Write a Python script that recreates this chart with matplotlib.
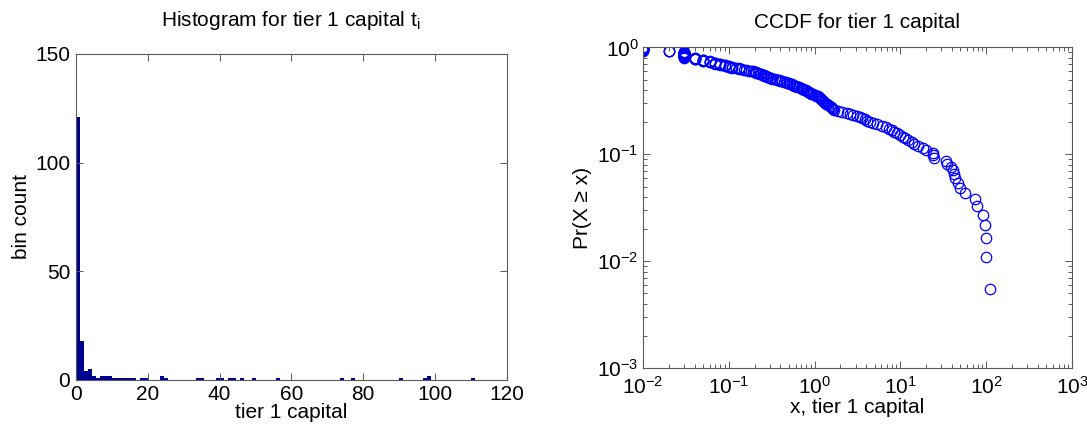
import numpy as np
import matplotlib
matplotlib.use('Agg')
import matplotlib.pyplot as plt

plt.rcParams['font.family'] = ['Liberation Sans', 'DejaVu Sans']
plt.rcParams['mathtext.default'] = 'regular'
plt.rcParams['font.size'] = 14

# tier 1 capital per bank; many small banks sit at the 0.01 rounding floor
small_banks = ([0.01] * 13 + [0.02] * 3 + [0.03] * 21 + [0.04] * 5 + [0.05] * 5 +
               [0.06] * 4 + [0.07] * 4 + [0.08] * 3 + [0.09] * 3 + [0.10] * 3 + [0.11] * 2 +
               [0.12, 0.13, 0.13, 0.14, 0.15, 0.16, 0.17, 0.18, 0.19,
                0.20, 0.21, 0.21, 0.22, 0.23, 0.23, 0.24, 0.25, 0.26, 0.26, 0.27, 0.28, 0.29,
                0.30, 0.31, 0.32, 0.35, 0.36, 0.38, 0.40, 0.42, 0.44,
                0.46, 0.48, 0.50, 0.52, 0.54, 0.56, 0.58, 0.61, 0.63, 0.66, 0.69,
                0.71, 0.74, 0.76, 0.79, 0.82, 0.84, 0.87, 0.89,
                0.92, 0.96, 1.00, 1.04, 1.09])
mid_banks = [1.13, 1.15, 1.18, 1.20, 1.22, 1.25, 1.28, 1.32, 1.35, 1.40, 1.45, 1.50,
             1.55, 1.60, 1.63, 1.7, 1.9, 2.1, 2.4, 2.6, 2.8, 3.1,
             3.4, 3.6, 3.9, 4.1, 4.4, 4.8, 5.4, 6.1, 6.8, 7.3, 7.9, 8.4, 9.1, 9.8,
             10.6, 11.4, 12.4, 13.5, 14.6]
big_banks = [15.9, 18.3, 19.8, 24.1, 24.3, 24.6, 34.4, 35.2, 39.2, 41.0, 42.4, 43.8,
             46.4, 49.3, 56.3, 74.3, 77.1, 90.7, 97.4, 98.2, 98.9, 111.2]

tier1 = np.array(small_banks + mid_banks + big_banks)
n = len(tier1)

# empirical CCDF: Pr(X >= x) for each sorted sample
xs = np.sort(tier1)
pr = np.arange(n, 0, -1) / n

fig = plt.figure(figsize=(10.87, 4.24), dpi=100)
axis_grey = '0.35'

def matlab_box(ax):
    for s in ax.spines.values():
        s.set_color(axis_grey)
        s.set_linewidth(0.8)
    ax.tick_params(which='both', direction='in', top=True, right=True,
                   color=axis_grey, width=0.7, pad=3, labelsize=15)
    ax.tick_params(which='major', length=5)
    ax.tick_params(which='minor', length=3)

# histogram (empty bins stay invisible)
ax1 = fig.add_axes([0.0697, 0.104, 0.3967, 0.769])
ax1.hist(tier1, bins=100, color='#00008F', linewidth=0)
ax1.set_xlim(0, 120)
ax1.set_ylim(0, 150)
ax1.set_xticks(range(0, 121, 20))
ax1.set_yticks([0, 50, 100, 150])
matlab_box(ax1)
ax1.tick_params(axis='y', pad=4)
ax1.tick_params(axis='x', pad=4)
ax1.set_xlabel('tier 1 capital', fontsize=15, labelpad=-1)
ax1.set_ylabel('bin count', fontsize=15, labelpad=3)
ax1.set_title('Histogram for tier 1 capital t$_{i}$', fontsize=15, pad=20)

# CCDF on log-log axes
ax2 = fig.add_axes([0.5915, 0.132, 0.3947, 0.756])
ax2.loglog(xs, pr, 'o', mfc='none', mec='#0000FF', ms=7.5, mew=0.9)
ax2.set_xlim(1e-2, 1e3)
ax2.set_ylim(1e-3, 1)
matlab_box(ax2)
ax2.tick_params(axis='x', which='both', pad=6)
ax2.set_xlabel('x, tier 1 capital', fontsize=15, labelpad=0)
ax2.set_ylabel('Pr(X ≥ x)', fontsize=15, labelpad=4)
ax2.set_title('CCDF for tier 1 capital', fontsize=15, pad=14)

fig.savefig('out.png', dpi=100)
